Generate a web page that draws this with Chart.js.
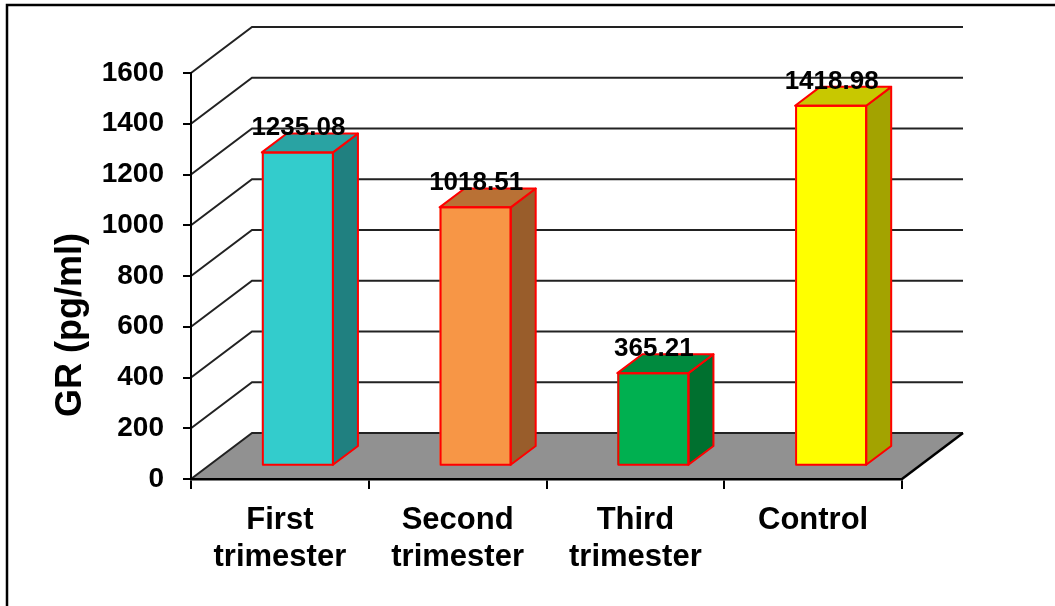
<!DOCTYPE html>
<html><head><meta charset="utf-8">
<script src="https://cdn.jsdelivr.net/npm/chart.js@4/dist/chart.umd.min.js"></script>
<style>html,body{margin:0;padding:0;background:#fff;overflow:hidden}#wrap{width:1055px;height:606px;position:relative}</style>
</head><body><div id="wrap"><canvas id="c" width="1055" height="606"></canvas></div>
<script>
// ---- data ----
const categories = [["First", "trimester"], ["Second", "trimester"], ["Third", "trimester"], ["Control"]];
const values = [1235.08, 1018.51, 365.21, 1418.98];
const valueLabels = ["1235.08", "1018.51", "365.21", "1418.98"];
const yMin = 0;
const yMax = 1600;
const yStep = 200;
const axisTitle = "GR (pg/ml)";
const frontColors = ["#33CCCC", "#F79646", "#00B050", "#FFFF00"];
const topColors = ["#29A3A3", "#B97135", "#008A3E", "#C8C800"];
const sideColors = ["#208080", "#995D2B", "#00702F", "#A3A300"];

// ---- 3D geometry ----
const DX = 61, DY = 46;       // depth of the walls/floor
const F1 = 0.287, F2 = 0.697; // bar front/back depth fractions
const FONT = "Arial, 'Liberation Sans', sans-serif";

const bg3d = {
  id: 'bg3d',
  beforeDraw(chart) {
    const ctx = chart.ctx, a = chart.chartArea, ys = chart.scales.y;
    ctx.save();
    ctx.fillStyle = '#fff';
    ctx.fillRect(0, 0, chart.width, chart.height);
    // outer border
    ctx.strokeStyle = '#000'; ctx.lineWidth = 2.5;
    ctx.beginPath(); ctx.moveTo(7, chart.height + 5); ctx.lineTo(7, 5); ctx.lineTo(chart.width + 5, 5); ctx.stroke();
    // walls grid
    ctx.strokeStyle = '#222'; ctx.lineWidth = 2;
    for (let v = yMin + yStep; v <= yMax; v += yStep) {
      const y = ys.getPixelForValue(v);
      ctx.beginPath();
      ctx.moveTo(a.left, y); ctx.lineTo(a.left + DX, y - DY); ctx.lineTo(a.right + DX, y - DY);
      ctx.stroke();
    }
    // floor
    const y0 = ys.getPixelForValue(yMin);
    ctx.fillStyle = '#919191';
    ctx.beginPath();
    ctx.moveTo(a.left, y0); ctx.lineTo(a.right, y0); ctx.lineTo(a.right + DX, y0 - DY); ctx.lineTo(a.left + DX, y0 - DY); ctx.closePath();
    ctx.fill();
    ctx.strokeStyle = '#222'; ctx.lineWidth = 2;
    ctx.beginPath(); ctx.moveTo(a.left, y0); ctx.lineTo(a.left + DX, y0 - DY); ctx.lineTo(a.right + DX, y0 - DY); ctx.stroke();
    ctx.strokeStyle = '#000'; ctx.lineWidth = 2.5;
    ctx.beginPath(); ctx.moveTo(a.right, y0); ctx.lineTo(a.right + DX, y0 - DY); ctx.stroke();
    ctx.restore();
  },
  beforeDatasetsDraw(chart) {
    chart.ctx.save();
    chart.ctx.translate(DX * F1, -DY * F1);
  },
  afterDatasetsDraw(chart) {
    const ctx = chart.ctx;
    ctx.restore();
    const ox = DX * F1, oy = DY * F1;
    const ddx = DX * (F2 - F1), ddy = DY * (F2 - F1);
    const meta = chart.getDatasetMeta(0);
    ctx.save();
    meta.data.forEach((bar, i) => {
      const p = bar.getProps(['x', 'y', 'base', 'width'], true);
      const L = p.x - p.width / 2 + ox, R = p.x + p.width / 2 + ox;
      const T = p.y - oy, B = p.base - oy;
      ctx.lineWidth = 2; ctx.strokeStyle = '#FF0000'; ctx.lineJoin = 'round';
      // side
      ctx.fillStyle = sideColors[i];
      ctx.beginPath(); ctx.moveTo(R, T); ctx.lineTo(R + ddx, T - ddy); ctx.lineTo(R + ddx, B - ddy); ctx.lineTo(R, B); ctx.closePath();
      ctx.fill(); ctx.stroke();
      // top
      ctx.fillStyle = topColors[i];
      ctx.beginPath(); ctx.moveTo(L, T); ctx.lineTo(L + ddx, T - ddy); ctx.lineTo(R + ddx, T - ddy); ctx.lineTo(R, T); ctx.closePath();
      ctx.fill(); ctx.stroke();
      // front outline
      ctx.strokeRect(L + 1, T, R - L - 1, B - T);
    });
    // value labels
    ctx.fillStyle = '#000';
    ctx.font = 'bold 26px ' + FONT;
    ctx.textAlign = 'center'; ctx.textBaseline = 'alphabetic';
    meta.data.forEach((bar, i) => {
      const p = bar.getProps(['x', 'y'], true);
      ctx.fillText(valueLabels[i], p.x + ox + 1, p.y - oy - 17);
    });
    ctx.restore();
  },
  afterDraw(chart) {
    const ctx = chart.ctx;
    ctx.save();
    ctx.translate(81, 325);
    ctx.rotate(-Math.PI / 2);
    ctx.font = 'bold 36px ' + FONT;
    ctx.fillStyle = '#000';
    ctx.textAlign = 'center'; ctx.textBaseline = 'alphabetic';
    ctx.fillText(axisTitle, 0, 0);
    ctx.restore();
  }
};

new Chart(document.getElementById('c'), {
  type: 'bar',
  data: {
    labels: categories,
    datasets: [{
      data: values,
      backgroundColor: frontColors,
      borderColor: '#FF0000',
      borderWidth: 0,
      borderSkipped: false,
      categoryPercentage: 1.0,
      barPercentage: 0.4
    }]
  },
  options: {
    responsive: false,
    animation: false,
    devicePixelRatio: 1,
    layout: { padding: { left: 0, top: 73, right: 153, bottom: 0 } },
    plugins: { legend: { display: false }, tooltip: { enabled: false }, title: { display: false } },
    scales: {
      x: {
        grid: { display: true, offset: true, drawOnChartArea: false, drawTicks: true, tickLength: 10, color: '#000', lineWidth: 2 },
        border: { display: true, color: '#000', width: 2.5 },
        ticks: { color: '#000', font: { family: FONT, size: 31, weight: 'bold', lineHeight: 1.2 }, padding: 13, maxRotation: 0, autoSkip: false },
        afterFit(s) { s.height = 127; }
      },
      y: {
        min: yMin, max: yMax,
        grid: { display: true, drawOnChartArea: false, drawTicks: true, tickLength: 8, color: '#000', lineWidth: 2 },
        border: { display: true, color: '#000', width: 2 },
        ticks: { stepSize: yStep, color: '#000', font: { family: FONT, size: 28, weight: 'bold' }, padding: 19,
                 callback: (v) => String(v) },
        afterFit(s) { s.width = 191; }
      }
    }
  },
  plugins: [bg3d]
});
</script>
</body></html>
